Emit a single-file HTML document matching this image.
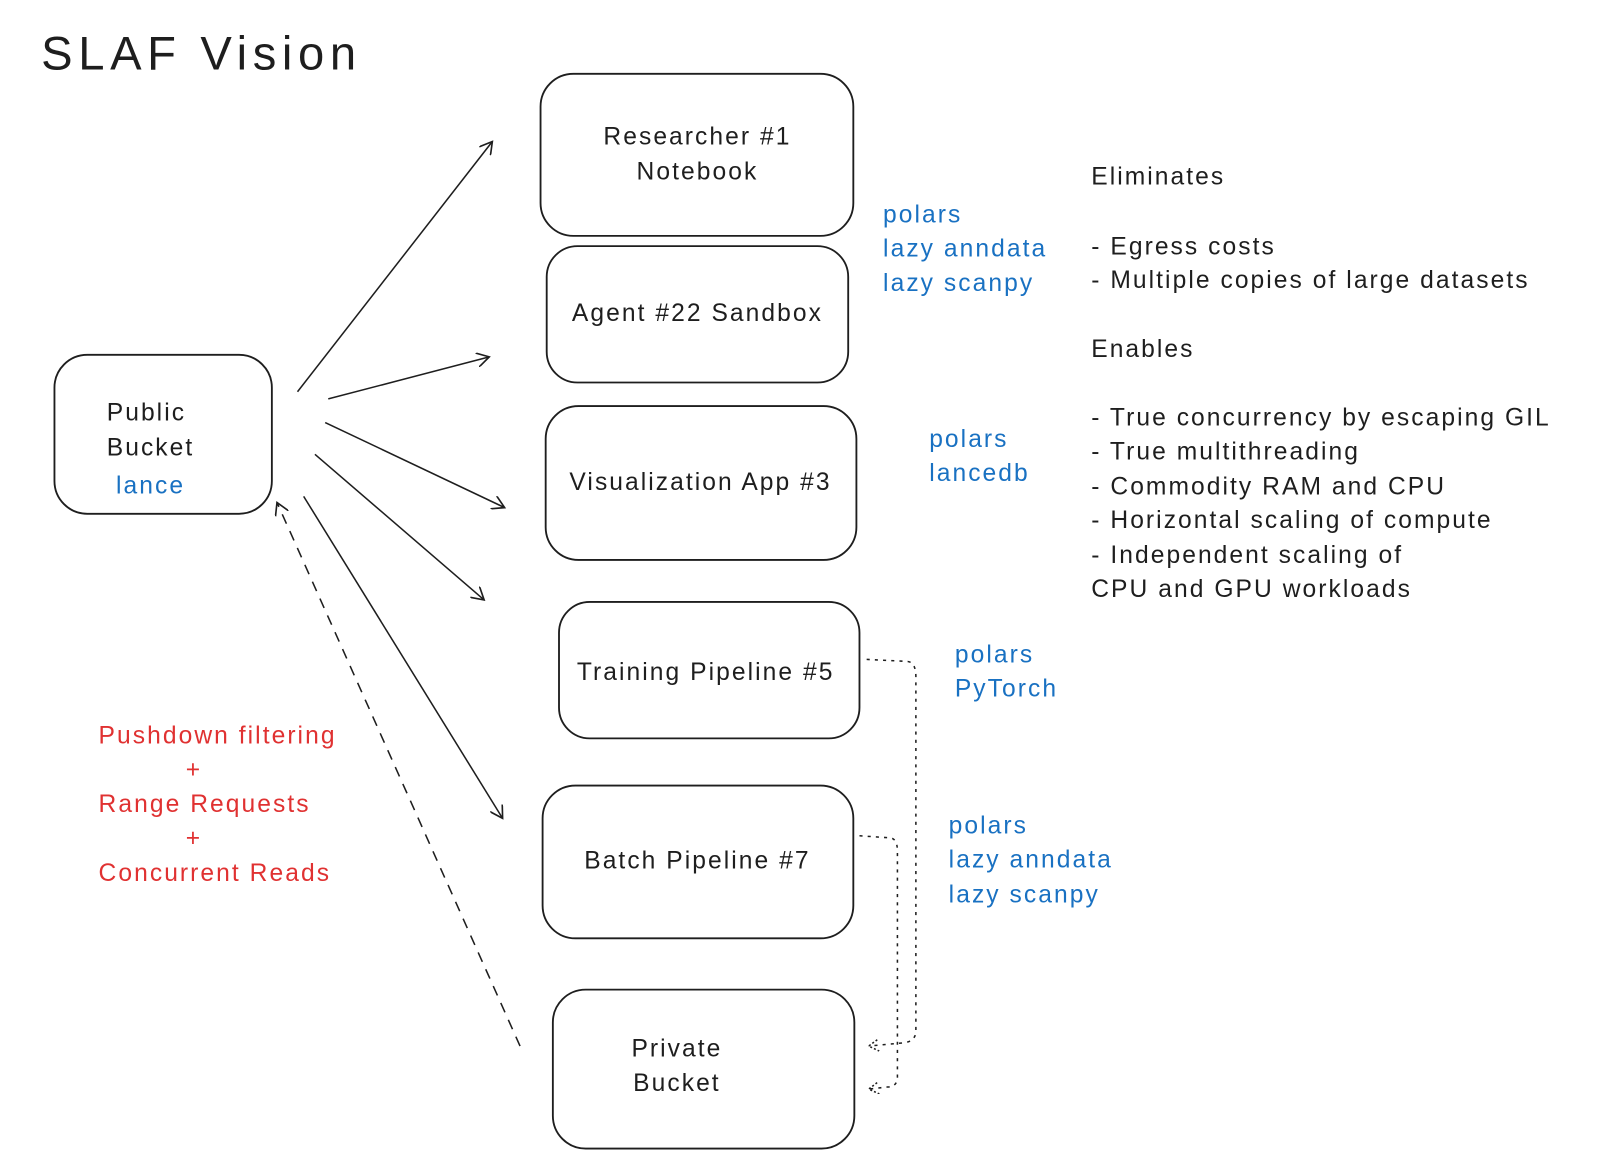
<!DOCTYPE html>
<html><head><meta charset="utf-8"><style>
html,body{margin:0;padding:0;background:#fff;}
svg{display:block;}
text{font-family:"Liberation Sans",sans-serif;letter-spacing:2px;}
</style></head><body>
<svg width="1600" height="1166" viewBox="0 0 1560 1137" xmlns="http://www.w3.org/2000/svg">
<defs>
<marker id="a" markerWidth="14" markerHeight="14" refX="12" refY="7" orient="auto" markerUnits="userSpaceOnUse">
<path d="M0,0 L12,7 L0,14" fill="none" stroke="#1e1e1e" stroke-width="1.6"/></marker>
<marker id="b" markerWidth="12" markerHeight="12" refX="10" refY="6" orient="auto" markerUnits="userSpaceOnUse">
<path d="M0,0 L10,6 L0,12" fill="none" stroke="#1e1e1e" stroke-width="1.5" stroke-dasharray="2 2"/></marker>
</defs>
<text x="40" y="68" font-size="46" fill="#1e1e1e" style="letter-spacing:5.5px">SLAF Vision</text>
<g fill="none" stroke="#1e1e1e" stroke-width="1.8">
<rect x="53" y="346" width="212" height="155" rx="32"/>
<rect x="527" y="72" width="305" height="158" rx="32"/>
<rect x="533" y="240" width="294" height="133" rx="30"/>
<rect x="532" y="396" width="303" height="150" rx="32"/>
<rect x="545" y="587" width="293" height="133" rx="30"/>
<rect x="529" y="766" width="303" height="149" rx="32"/>
<rect x="539" y="965" width="294" height="155" rx="32"/>
</g>
<g stroke="#1e1e1e" stroke-width="1.5" fill="none">
<line x1="290" y1="382" x2="480" y2="138" marker-end="url(#a)"/>
<line x1="320" y1="389" x2="477" y2="348" marker-end="url(#a)"/>
<line x1="317" y1="412" x2="492" y2="495" marker-end="url(#a)"/>
<line x1="307" y1="443" x2="472" y2="585" marker-end="url(#a)"/>
<line x1="296" y1="484" x2="490" y2="798" marker-end="url(#a)"/>
<line x1="507" y1="1020" x2="270" y2="490" stroke-dasharray="10 8" marker-end="url(#a)"/>
<path d="M845,643 L885,645 Q893,646 893,660 L893,1005 Q893,1016 880,1017 L847,1020" stroke-dasharray="3 5" marker-end="url(#b)"/>
<path d="M838,815 L868,817 Q875,818 875,830 L875,1050 Q875,1060 865,1060 L847,1062" stroke-dasharray="3 5" marker-end="url(#b)"/>
</g>
<g font-size="24" fill="#1e1e1e" text-anchor="middle">
<text x="680" y="141">Researcher #1</text>
<text x="680" y="175">Notebook</text>
<text x="680" y="313">Agent #22 Sandbox</text>
<text x="683" y="478">Visualization App #3</text>
<text x="688" y="663">Training Pipeline #5</text>
<text x="680" y="847">Batch Pipeline #7</text>
<text x="660" y="1030">Private</text>
<text x="660" y="1064">Bucket</text>
</g>
<g font-size="24" fill="#1e1e1e">
<text x="104" y="410">Public</text>
<text x="104" y="444">Bucket</text>
<text x="1064" y="180">Eliminates</text>
<text x="1064" y="248">- Egress costs</text>
<text x="1064" y="281">- Multiple copies of large datasets</text>
<text x="1064" y="348">Enables</text>
<text x="1064" y="415">- True concurrency by escaping GIL</text>
<text x="1064" y="448">- True multithreading</text>
<text x="1064" y="482">- Commodity RAM and CPU</text>
<text x="1064" y="515">- Horizontal scaling of compute</text>
<text x="1064" y="549">- Independent scaling of</text>
<text x="1064" y="582">CPU and GPU workloads</text>
</g>
<g font-size="24" fill="#1971c2">
<text x="113" y="481">lance</text>
<text x="861" y="217">polars</text>
<text x="861" y="250">lazy anndata</text>
<text x="861" y="284">lazy scanpy</text>
<text x="906" y="436">polars</text>
<text x="906" y="469">lancedb</text>
<text x="931" y="646">polars</text>
<text x="931" y="679">PyTorch</text>
<text x="925" y="813">polars</text>
<text x="925" y="846">lazy anndata</text>
<text x="925" y="880">lazy scanpy</text>
</g>
<g font-size="24" fill="#e03131">
<text x="96" y="725">Pushdown filtering</text>
<text x="189" y="758" text-anchor="middle">+</text>
<text x="96" y="792">Range Requests</text>
<text x="189" y="825" text-anchor="middle">+</text>
<text x="96" y="859">Concurrent Reads</text>
</g>
</svg>
</body></html>
